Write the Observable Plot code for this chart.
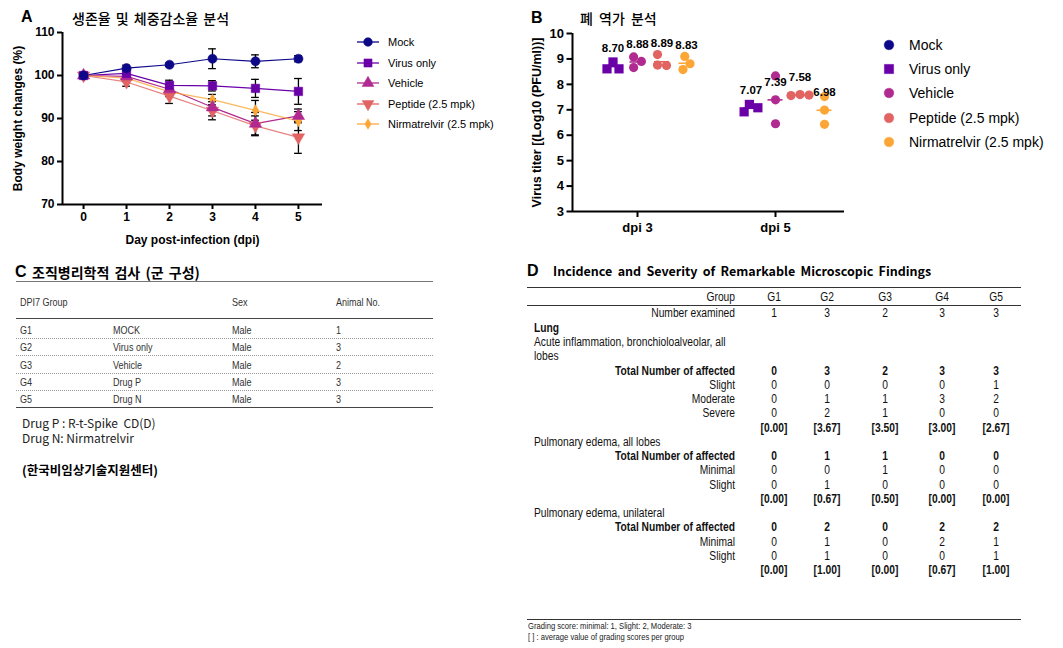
<!DOCTYPE html>
<html><head><meta charset="utf-8">
<script src="https://cdn.jsdelivr.net/npm/d3@7"></script>
<script src="https://cdn.jsdelivr.net/npm/@observablehq/plot@0.6"></script>
<style>
body{margin:0;background:#fff;}
#root{position:relative;width:1063px;height:648px;overflow:hidden;font-family:'Liberation Sans',Arial,sans-serif;color:#000;}
.t{position:absolute;white-space:pre;line-height:1;}
.ln{position:absolute;height:0;}
</style></head><body><div id="root"></div>
<script>
// ---------------- Panel A data: body weight (%) ----------------
const days = [0, 1, 2, 3, 4, 5];
const seriesNames = ["Mock", "Virus only", "Vehicle", "Peptide (2.5 mpk)", "Nirmatrelvir (2.5 mpk)"];
const seriesColors = ["#0d0887", "#6a00a8", "#b12a90", "#e16462", "#fca636"];
const mockMean    = [100, 101.7, 102.5, 103.9, 103.3, 103.9];
const mockSem     = [0, 0.7, 0.4, 2.3, 1.5, 0.7];
const virusMean   = [100, 100.5, 97.7, 97.6, 97.0, 96.3];
const virusSem    = [0, 0.7, 1.2, 1.2, 2.1, 3.0];
const vehicleMean = [100, 99.8, 96.8, 92.6, 88.8, 90.6];
const vehicleSem  = [0, 0.8, 1.0, 2.0, 2.6, 1.6];
const peptideMean = [100, 98.5, 95.2, 91.8, 88.3, 85.6];
const peptideSem  = [0, 1.0, 1.7, 2.1, 2.3, 3.7];
const nirmMean    = [100, 99.4, 96.2, 94.4, 91.9, 89.4];
const nirmSem     = [0, 0.8, 1.1, 1.2, 2.3, 2.2];
const weightTicks = [70, 80, 90, 100, 110];

// ---------------- Panel B data: lung virus titer ----------------
const timepoints = ["dpi 3", "dpi 5"];
const titerTicks = [3, 4, 5, 6, 7, 8, 9, 10];
const virusTiter   = [[8.88, 8.61, 8.61], [7.21, 6.92, 7.08]];
const vehicleTiter = [[9.08, 8.66, 8.90], [8.33, 7.39, 6.45]];
const peptideTiter = [[9.17, 8.74, 8.76], [7.56, 7.60, 7.58]];
const nirmTiter    = [[9.10, 8.58, 8.81], [7.52, 6.99, 6.43]];

// ---------------- Panel C data ----------------
const cHeader = ["DPI7 Group", "Sex", "Animal No."];
const cGroups = ["G1", "G2", "G3", "G4", "G5"];
const cNames = ["MOCK", "Virus only", "Vehicle", "Drug P", "Drug N"];
const cSex = ["Male", "Male", "Male", "Male", "Male"];
const cAnimals = [1, 3, 2, 3, 3];
const cNotes = ["Drug P : R-t-Spike  CD(D)", "Drug N: Nirmatrelvir"];
const cSource = "(한국비임상기술지원센터)";

// ---------------- Panel D data ----------------
const dGroups = ["G1", "G2", "G3", "G4", "G5"];
const dExamined = [1, 3, 2, 3, 3];
const acuteTotal = [0, 3, 2, 3, 3];
const acuteSlight = [0, 0, 0, 0, 1];
const acuteModerate = [0, 1, 1, 3, 2];
const acuteSevere = [0, 2, 1, 0, 0];
const acuteAvg = ["0.00", "3.67", "3.50", "3.00", "2.67"];
const edemaAllTotal = [0, 1, 1, 0, 0];
const edemaAllMinimal = [0, 0, 1, 0, 0];
const edemaAllSlight = [0, 1, 0, 0, 0];
const edemaAllAvg = ["0.00", "0.67", "0.50", "0.00", "0.00"];
const edemaUniTotal = [0, 2, 0, 2, 2];
const edemaUniMinimal = [0, 1, 0, 2, 1];
const edemaUniSlight = [0, 1, 0, 0, 1];
const edemaUniAvg = ["0.00", "1.00", "0.00", "0.67", "1.00"];
const dNotes = ["Grading score: minimal: 1, Slight: 2, Moderate: 3", "[ ] : average value of grading scores per group"];

// ================= helpers =================
const root = document.getElementById("root");
function put(text, x, y, style = {}, anchor = "start", sx = 1) {
  const d = document.createElement("div");
  d.className = "t";
  d.textContent = text;
  const tx = anchor === "middle" ? -50 : anchor === "end" ? -100 : 0;
  d.style.left = x + "px"; d.style.top = y + "px";
  d.style.transformOrigin = `${-tx}% 50%`;
  d.style.transform = `translate(${tx}%,-50%)` + (sx !== 1 ? ` scaleX(${sx})` : "");
  Object.assign(d.style, style);
  root.appendChild(d);
  return d;
}
function hline(x1, x2, y, w, color, dash) {
  const d = document.createElement("div");
  d.className = "ln";
  d.style.left = x1 + "px"; d.style.width = (x2 - x1) + "px";
  d.style.top = (y - w / 2) + "px";
  d.style.borderTop = `${w}px ${dash ? "dotted" : "solid"} ${color}`;
  root.appendChild(d);
}
function hasFont(name) {
  const c = document.createElement("canvas").getContext("2d");
  const s = "abcdefghijklmnopqrstuvwxyzABCDEFGHIJ 0123456789";
  c.font = "40px monospace"; const a = c.measureText(s).width;
  c.font = `40px '${name}', monospace`; const b = c.measureText(s).width;
  return Math.abs(a - b) > 0.5;
}
const narrowOK = hasFont("Liberation Sans Narrow");
const NARROW = narrowOK ? "'Liberation Sans Narrow','Liberation Sans',Arial,sans-serif" : "'Liberation Sans',Arial,sans-serif";
const NSX = narrowOK ? 1 : 0.82;   // emulate a condensed face when the narrow font is absent
const KR = "'Noto Sans CJK KR','Noto Sans',sans-serif";

const triangleDown = {draw(ctx, size) {
  const s3 = Math.sqrt(3), y = Math.sqrt(size / (s3 * 3));
  ctx.moveTo(0, y * 2); ctx.lineTo(-s3 * y, -y); ctx.lineTo(s3 * y, -y); ctx.closePath();
}};
const symbolsA = [d3.symbolCircle, d3.symbolSquare, d3.symbolTriangle, triangleDown, d3.symbolDiamond];
const radiiA = [4.6, 4.8, 4.6, 4.6, 3.4];

// ================= Panel A chart =================
const meansA = [mockMean, virusMean, vehicleMean, peptideMean, nirmMean];
const semsA = [mockSem, virusSem, vehicleSem, peptideSem, nirmSem];
const weightRows = seriesNames.flatMap((s, i) => days.map((d, j) => ({series: s, si: i, day: d, mean: meansA[i][j], sem: semsA[i][j]})));
const errRows = weightRows.filter(d => d.sem > 0);
const capA = 0.09;
const xDomA = [-0.49, 5.56];

const marksA = [
  Plot.ruleY([70], {stroke: "black", strokeWidth: 2}),
  Plot.ruleX([xDomA[0]], {stroke: "black", strokeWidth: 2}),
  Plot.axisY({ticks: weightTicks, tickFormat: d => String(d), tickSize: 5, tickPadding: 3, strokeWidth: 2, label: null, fontSize: 12, fontWeight: "bold"}),
  Plot.axisX({ticks: days, tickFormat: d => String(d), tickSize: 5, tickPadding: 3, strokeWidth: 2, label: null, fontSize: 12, fontWeight: "bold"}),
];
seriesNames.forEach((s, i) => {
  marksA.push(Plot.line(weightRows.filter(d => d.si === i), {x: "day", y: "mean", stroke: seriesColors[i], strokeWidth: 1.2, strokeOpacity: i >= 3 ? 0.8 : 1}));
});
marksA.push(
  Plot.ruleX(errRows, {x: "day", y1: d => d.mean - d.sem, y2: d => d.mean + d.sem, stroke: "black", strokeWidth: 1.3}),
  Plot.ruleY(errRows, {y: d => d.mean + d.sem, x1: d => d.day - capA, x2: d => d.day + capA, stroke: "black", strokeWidth: 1.3}),
  Plot.ruleY(errRows, {y: d => d.mean - d.sem, x1: d => d.day - capA, x2: d => d.day + capA, stroke: "black", strokeWidth: 1.3})
);
[4, 3, 2, 1, 0].forEach(i => {
  marksA.push(Plot.dot(weightRows.filter(d => d.si === i), {x: "day", y: "mean", symbol: symbolsA[i], r: radiiA[i], fill: seriesColors[i], stroke: seriesColors[i], strokeWidth: 0.5}));
});
marksA.push(
  Plot.text(["Body weight changes (%)"], {text: d => d, frameAnchor: "left", textAnchor: "middle", lineAnchor: "middle", rotate: -90, dx: -44, fontSize: 12, fontWeight: "bold"}),
  Plot.text(["Day post-infection (dpi)"], {text: d => d, frameAnchor: "bottom", textAnchor: "middle", lineAnchor: "middle", dy: 36, fontSize: 12, fontWeight: "bold"})
);

const chartA = Plot.plot({
  width: 340, height: 250,
  marginLeft: 62, marginRight: 18, marginTop: 32, marginBottom: 46,
  x: {domain: xDomA, label: null},
  y: {domain: [70, 110], label: null},
  style: {fontFamily: "'Liberation Sans',Arial,sans-serif", fontSize: "12px", fontWeight: "bold", color: "black", background: "transparent", overflow: "visible"},
  marks: marksA
});
chartA.style.position = "absolute"; chartA.style.left = "0px"; chartA.style.top = "0px";
root.appendChild(chartA);

put("A", 21, 17, {fontSize: "16px", fontWeight: "bold"});
put("생존율 및 체중감소율 분석", 72, 18, {fontFamily: KR, fontSize: "14px", fontWeight: "500", wordSpacing: "2px"});

// legend A
function symbolSvg(sym, r, color, withLine, w) {
  const size = Math.PI * r * r;
  const path = d3.symbol().type(sym).size(size)();
  const h = 16;
  return `<svg width="${w}" height="${h}" style="position:absolute;left:0;top:${-h/2}px;overflow:visible">` +
    (withLine ? `<line x1="0" x2="${w}" y1="${h/2}" y2="${h/2}" stroke="${color}" stroke-width="1.3"/>` : "") +
    `<path d="${path}" transform="translate(${w/2},${h/2})" fill="${color}" stroke="${color}" stroke-width="0.5"/></svg>`;
}
seriesNames.forEach((s, i) => {
  const y = 42 + 20.5 * i;
  const holder = document.createElement("div");
  holder.style.position = "absolute"; holder.style.left = "357px"; holder.style.top = y + "px";
  holder.innerHTML = symbolSvg(symbolsA[i], radiiA[i] * 0.95, seriesColors[i], true, 22);
  root.appendChild(holder);
  put(s, 388, y, {fontSize: "11px"});
});

// ================= Panel B chart =================
const xDomB = [-0.471, 1.5];
const plotWB = 844 - 572;
const pxPerUnitB = plotWB / (xDomB[1] - xDomB[0]);
const pyPerUnitB = (211 - 33) / 7;
const groupStep = 24.5 / pxPerUnitB;
const titerSets = [null, virusTiter, vehicleTiter, peptideTiter, nirmTiter];

function dodgePx(values, r) {
  const order = values.map((v, i) => i).sort((a, b) => values[b] - values[a]);
  const placed = [], off = new Array(values.length);
  for (const i of order) {
    const y = values[i] * pyPerUnitB;
    let best = null;
    for (let step = 0; step <= 40 && best === null; step += 0.25) {
      for (const c of step === 0 ? [0] : [step, -step]) {
        if (placed.every(p => Math.hypot(p.x - c, p.y - y) >= 2 * r)) { best = c; break; }
      }
    }
    off[i] = best; placed.push({x: best, y});
  }
  const mid = (d3.min(off) + d3.max(off)) / 2;
  return off.map(o => o - mid);
}

const titerPoints = [], titerMeans = [];
titerSets.forEach((set, g) => {
  if (!set) return;
  set.forEach((vals, t) => {
    const center = t + (g - 2) * groupStep;
    const offs = dodgePx(vals, 4.5);
    vals.forEach((v, k) => titerPoints.push({g, t, value: v, x: center + offs[k] / pxPerUnitB}));
    titerMeans.push({g, t, x: center, mean: d3.mean(vals)});
  });
});
const halfMean = 7.5 / pxPerUnitB;

const marksB = [
  Plot.ruleY([3], {stroke: "black", strokeWidth: 2}),
  Plot.ruleX([xDomB[0]], {stroke: "black", strokeWidth: 2}),
  Plot.axisY({ticks: titerTicks, tickFormat: d => String(d), tickSize: 5.5, tickPadding: 3, strokeWidth: 2, label: null, fontSize: 13, fontWeight: "bold"}),
  Plot.axisX({ticks: [0, 1], tickFormat: i => timepoints[i], tickSize: 6, tickPadding: 5, strokeWidth: 2, label: null, fontSize: 13, fontWeight: "bold"}),
];
[1, 2, 3, 4].forEach(g => {
  const isSq = g === 1;
  marksB.push(Plot.dot(titerPoints.filter(d => d.g === g), {x: "x", y: "value", symbol: isSq ? "square" : "circle", r: isSq ? 5.2 : 4.6, fill: seriesColors[g], stroke: "none"}));
});
[1, 2, 3, 4].forEach(g => {
  marksB.push(Plot.ruleY(titerMeans.filter(d => d.g === g), {y: "mean", x1: d => d.x - halfMean, x2: d => d.x + halfMean, stroke: seriesColors[g], strokeWidth: 1.6}));
});
marksB.push(
  Plot.text(titerMeans, {x: "x", y: "mean", text: d => d.mean.toFixed(2), dy: -18, fontSize: 11.5, fontWeight: "bold"}),
  Plot.text(["Virus titer [(Log10 (PFU/ml))]"], {text: d => d, frameAnchor: "left", textAnchor: "middle", lineAnchor: "middle", rotate: -90, dx: -36, fontSize: 12.5, fontWeight: "bold"})
);

const chartB = Plot.plot({
  width: 340, height: 250,
  marginLeft: 52, marginRight: 16, marginTop: 33, marginBottom: 39,
  x: {domain: xDomB, label: null},
  y: {domain: [3, 10], label: null},
  style: {fontFamily: "'Liberation Sans',Arial,sans-serif", fontSize: "12px", fontWeight: "bold", color: "black", background: "transparent", overflow: "visible"},
  marks: marksB
});
chartB.style.position = "absolute"; chartB.style.left = "520px"; chartB.style.top = "0px";
root.appendChild(chartB);

put("B", 531, 18, {fontSize: "16px", fontWeight: "bold"});
put("폐 역가 분석", 580, 18, {fontFamily: KR, fontSize: "14px", fontWeight: "500", wordSpacing: "3px"});

seriesNames.forEach((s, i) => {
  const y = 45 + 24.2 * i;
  const holder = document.createElement("div");
  holder.style.position = "absolute"; holder.style.left = "879px"; holder.style.top = y + "px";
  holder.innerHTML = symbolSvg(i === 1 ? d3.symbolSquare : d3.symbolCircle, i === 1 ? 5.2 : 4.8, seriesColors[i], false, 20);
  root.appendChild(holder);
  put(s, 909, y, {fontSize: "14px"});
});

// ================= Panel C table =================
put("C", 15, 272, {fontSize: "16px", fontWeight: "bold"});
put("조직병리학적 검사 (군 구성)", 32, 272, {fontFamily: KR, fontSize: "14px", fontWeight: "700", wordSpacing: "2px"});
const cX = [20, 113, 232, 336];
const cFont = {fontFamily: NARROW, fontSize: "11px", color: "#333"};
hline(16, 433, 282, 1.2, "#777");
put(cHeader[0], cX[0], 302, cFont, "start", NSX);
put(cHeader[1], cX[2], 302, cFont, "start", NSX);
put(cHeader[2], cX[3], 302, cFont, "start", NSX);
hline(16, 433, 319, 1.2, "#444");
cGroups.forEach((g, i) => {
  const y = 330 + 17.3 * i;
  put(g, cX[0], y, cFont, "start", NSX);
  put(cNames[i], cX[1], y, cFont, "start", NSX);
  put(cSex[i], cX[2], y, cFont, "start", NSX);
  put(String(cAnimals[i]), cX[3], y, cFont, "start", NSX);
  if (i < cGroups.length - 1) hline(16, 433, y + 8.6, 1, "#999", true);
});
hline(16, 433, 407.5, 1.2, "#444");
put(cNotes[0], 22, 423, {fontFamily: KR, fontSize: "12px", color: "#222"});
put(cNotes[1], 22, 438, {fontFamily: KR, fontSize: "12px", color: "#222"});
put(cSource, 22, 470, {fontFamily: KR, fontSize: "12.5px", fontWeight: "700"});

// ================= Panel D table =================
put("D", 527, 271, {fontSize: "16px", fontWeight: "bold"});
put("Incidence and Severity of Remarkable Microscopic Findings", 553, 271, {fontFamily: KR, fontSize: "12.5px", fontWeight: "700", wordSpacing: "2.5px"});
hline(527, 1021, 287.5, 1.5, "#333");
hline(527, 1021, 305.5, 1.5, "#333");
const colX = [774, 827, 885, 942, 996];
const labR = 735, labL = 534;
const dFont = {fontFamily: NARROW, fontSize: "12.5px", color: "#111"};
const dBold = Object.assign({}, dFont, {fontWeight: "bold"});
put("Group", labR, 297, dFont, "end", NSX);
dGroups.forEach((g, j) => put(g, colX[j], 297, dFont, "middle", NSX));
put("Number examined", labR, 312.5, dFont, "end", NSX);
dExamined.forEach((v, j) => put(String(v), colX[j], 312.5, dFont, "middle", NSX));
const br = a => a.map(v => `[${v}]`);
const rowsD = [
  {left: "Lung", bold: true},
  {left: "Acute inflammation, bronchioloalveolar, all"},
  {left: "lobes"},
  {right: "Total Number of affected", vals: acuteTotal, bold: true},
  {right: "Slight", vals: acuteSlight},
  {right: "Moderate", vals: acuteModerate},
  {right: "Severe", vals: acuteSevere},
  {vals: br(acuteAvg), bold: true},
  {left: "Pulmonary edema, all lobes"},
  {right: "Total Number of affected", vals: edemaAllTotal, bold: true},
  {right: "Minimal", vals: edemaAllMinimal},
  {right: "Slight", vals: edemaAllSlight},
  {vals: br(edemaAllAvg), bold: true},
  {left: "Pulmonary edema, unilateral"},
  {right: "Total Number of affected", vals: edemaUniTotal, bold: true},
  {right: "Minimal", vals: edemaUniMinimal},
  {right: "Slight", vals: edemaUniSlight},
  {vals: br(edemaUniAvg), bold: true},
];
rowsD.forEach((r, i) => {
  const y = 327.8 + 14.25 * i;
  const f = r.bold ? dBold : dFont;
  if (r.left) put(r.left, labL, y, f, "start", NSX);
  if (r.right) put(r.right, labR, y, f, "end", NSX);
  if (r.vals) r.vals.forEach((v, j) => put(String(v), colX[j], y, f, "middle", NSX));
});
hline(527, 1021, 619.5, 1.2, "#333");
put(dNotes[0], 528, 626.5, {fontFamily: NARROW, fontSize: "9.3px", color: "#222"}, "start", NSX);
put(dNotes[1], 528, 638, {fontFamily: NARROW, fontSize: "9.3px", color: "#222"}, "start", NSX);
</script></body></html>
